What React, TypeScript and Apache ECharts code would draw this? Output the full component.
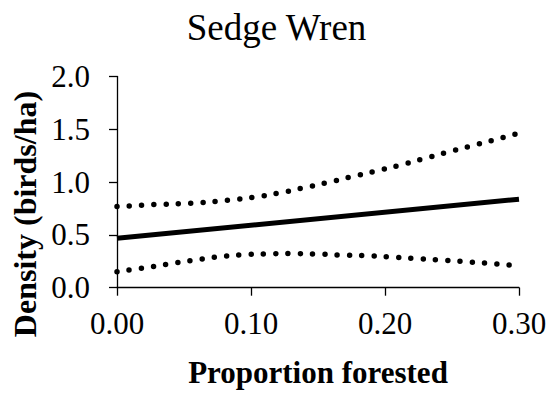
import React, { useEffect, useRef } from "react";
import * as echarts from "echarts";

const xTicks = [0, 0.1, 0.2, 0.3];
const yTicks = [0, 0.5, 1.0, 1.5, 2.0];

const estimateX = [0, 0.3];
const estimateY = [0.468, 0.838];

const upperX = [0, 0.028, 0.055, 0.083, 0.102, 0.12, 0.138, 0.156, 0.174, 0.192, 0.21, 0.228, 0.246, 0.264, 0.282, 0.3];
const upperY = [0.768, 0.787, 0.8, 0.829, 0.857, 0.895, 0.942, 0.993, 1.047, 1.1, 1.157, 1.218, 1.281, 1.341, 1.401, 1.464];

const lowerX = [0, 0.018, 0.037, 0.055, 0.073, 0.092, 0.111, 0.129, 0.148, 0.166, 0.185, 0.203, 0.221, 0.24, 0.259, 0.277, 0.3];
const lowerY = [0.152, 0.183, 0.221, 0.256, 0.288, 0.31, 0.319, 0.323, 0.319, 0.31, 0.304, 0.291, 0.278, 0.262, 0.247, 0.231, 0.207];

const FONT = "'Liberation Serif', 'Times New Roman', serif";

const zip = (xs: number[], ys: number[]) => xs.map((x, i) => [x, ys[i]]);

export default function App() {
  const ref = useRef<HTMLDivElement>(null);
  useEffect(() => {
    if (!ref.current) return;
    const chart = echarts.init(ref.current, null, { renderer: "svg" });
    const dotted = {
      color: "#000",
      width: 5.5,
      type: [0, 12.3] as any,
      cap: "round" as const,
    };
    chart.setOption({
      animation: false,
      backgroundColor: "#fff",
      title: {
        text: "Sedge Wren",
        left: "center",
        top: 4,
        textStyle: { fontFamily: FONT, fontSize: 37, fontWeight: "normal", color: "#000" },
      },
      grid: { left: 117, right: 34, top: 76.5, bottom: 107.3, containLabel: false },
      xAxis: {
        type: "value",
        min: xTicks[0],
        max: xTicks[xTicks.length - 1],
        interval: 0.1,
        name: "Proportion forested",
        nameLocation: "middle",
        nameGap: 69,
        nameTextStyle: { fontFamily: FONT, fontSize: 31, fontWeight: "bold", color: "#000" },
        axisLine: { lineStyle: { color: "#000", width: 1.3 } },
        axisTick: { show: true, length: 8, inside: false, lineStyle: { color: "#000", width: 1.3 } },
        axisLabel: {
          fontFamily: FONT,
          fontSize: 31,
          color: "#000",
          margin: 20,
          formatter: (v: number) => v.toFixed(2),
        },
        splitLine: { show: false },
      },
      yAxis: {
        type: "value",
        min: yTicks[0],
        max: yTicks[yTicks.length - 1],
        interval: 0.5,
        axisLine: { show: true, lineStyle: { color: "#000", width: 1.3 } },
        axisTick: { show: true, length: 8, inside: false, lineStyle: { color: "#000", width: 1.3 } },
        axisLabel: {
          fontFamily: FONT,
          fontSize: 31,
          color: "#000",
          margin: 27,
          formatter: (v: number) => v.toFixed(1),
        },
        splitLine: { show: false },
      },
      graphic: [
        {
          type: "text",
          x: 25,
          y: 214,
          rotation: Math.PI / 2,
          style: {
            text: "Density (birds/ha)",
            fontFamily: FONT,
            fontSize: 32,
            fontWeight: "bold",
            fill: "#000",
            textAlign: "center",
            textVerticalAlign: "middle",
          },
        },
      ],
      series: [
        {
          type: "line",
          data: zip(upperX, upperY),
          smooth: true,
          showSymbol: false,
          symbol: "none",
          lineStyle: dotted,
        },
        {
          type: "line",
          data: zip(lowerX, lowerY),
          smooth: true,
          showSymbol: false,
          symbol: "none",
          lineStyle: dotted,
        },
        {
          type: "line",
          data: zip(estimateX, estimateY),
          showSymbol: false,
          symbol: "none",
          lineStyle: { color: "#000", width: 5 },
        },
      ],
    });
    return () => chart.dispose();
  }, []);
  return (
    <div
      ref={ref}
      style={{ position: "absolute", left: 0, top: 0, width: 553, height: 395 }}
    />
  );
}
